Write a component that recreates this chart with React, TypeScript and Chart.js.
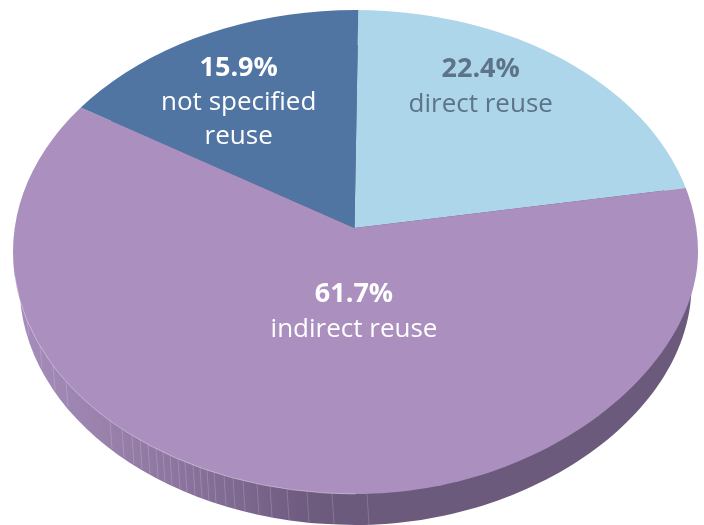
import React, { useEffect, useRef } from "react";
import { Chart, registerables } from "chart.js";

Chart.register(...registerables);

const categories = ["direct reuse", "indirect reuse", "not specified reuse"];
const shares = [22.4, 61.7, 15.9];
const sliceColors = ["#AED6EB", "#AA8FBF", "#5075A3"];

const W = 704;
const H = 525;
const APEX = { x: 354.5, y: 228 };
// linear map that tilts the flat pie into the picture's perspective
const TILT = { a: 1.618, b: -0.0117, c: -0.0195, d: 1.1157 };
// k1 / k2: handles of the lower-right quadrant, a little flatter than a true ellipse
const TOP_FACE = { x: 355.5, y: 252, rx: 342.5, ry: 242, k1: 0.47, k2: 0.56 };
const BOTTOM_FACE = { x: 355.5, y: 285, rx: 336, ry: 240, k1: 0.53, k2: 0.53 };
const FACET_XS = [27, 40, 53, 66, 110, 122, 132, 140, 148, 156, 163, 170, 178, 185, 193, 200, 207, 214, 224, 233, 243, 257, 270, 287, 307, 332, 367];
const SIDE_STOPS: [number, string][] = [
  [20, "#A58DBB"],
  [100, "#9A82AD"],
  [170, "#8D76A0"],
  [240, "#7D688F"],
  [300, "#6F5C80"],
  [345, "#6B5A7B"],
];

const LABEL_FONT = "'Open Sans'";
const LABELS = [
  { x: 480.7, color: "#5C7388", bold: [["22.4%", 77.3]], plain: [["direct reuse", 111.7]] },
  { x: 354, color: "#FFFFFF", bold: [["61.7%", 301.7]], plain: [["indirect reuse", 336.7]] },
  { x: 238.7, color: "#FFFFFF", bold: [["15.9%", 75.5]], plain: [["not specified", 110], ["reuse", 144]] },
];

function disc(ctx: CanvasRenderingContext2D, e: typeof TOP_FACE) {
  ctx.beginPath();
  ctx.moveTo(e.x + e.rx, e.y);
  ctx.bezierCurveTo(e.x + e.rx, e.y + e.k1 * e.ry, e.x + e.k2 * e.rx, e.y + e.ry, e.x, e.y + e.ry);
  ctx.ellipse(e.x, e.y, e.rx, e.ry, 0, Math.PI / 2, Math.PI * 2);
  ctx.closePath();
}

const tiltedPie = {
  id: "tiltedPie",
  beforeDatasetsDraw(chart: Chart) {
    const ctx = chart.ctx;
    // side wall
    const grad = ctx.createLinearGradient(0, 0, W, 0);
    SIDE_STOPS.forEach(([x, c]) => grad.addColorStop(x / W, c));
    ctx.save();
    ctx.fillStyle = grad;
    disc(ctx, BOTTOM_FACE);
    ctx.fill();
    ctx.beginPath();
    ctx.rect(BOTTOM_FACE.x - BOTTOM_FACE.rx, TOP_FACE.y, BOTTOM_FACE.rx * 2, BOTTOM_FACE.y - TOP_FACE.y);
    ctx.fill();
    ctx.restore();
    // facet seams on the wall
    ctx.save();
    disc(ctx, BOTTOM_FACE);
    ctx.clip();
    ctx.lineWidth = 0.8;
    FACET_XS.forEach((x) => {
      const t = (x - BOTTOM_FACE.x) / BOTTOM_FACE.rx;
      const yb = BOTTOM_FACE.y + BOTTOM_FACE.ry * Math.sqrt(1 - t * t);
      const u = (x - TOP_FACE.x) / TOP_FACE.rx;
      const yt = TOP_FACE.y + TOP_FACE.ry * Math.sqrt(1 - u * u);
      ctx.strokeStyle = "rgba(255,255,255,0.22)";
      ctx.beginPath();
      ctx.moveTo(x, yt);
      ctx.lineTo(x + 2, yb);
      ctx.stroke();
    });
    ctx.restore();
    // top face: slices clipped to the disc, through the tilt
    ctx.save();
    disc(ctx, TOP_FACE);
    ctx.clip();
    const arc = chart.getDatasetMeta(0).data[0] as any;
    ctx.translate(APEX.x, APEX.y);
    ctx.transform(TILT.a, TILT.b, TILT.c, TILT.d, 0, 0);
    ctx.translate(-arc.x, -arc.y);
  },
  afterDatasetsDraw(chart: Chart) {
    const ctx = chart.ctx;
    ctx.restore();
    // pale rim on the lower-left edge
    ctx.save();
    ctx.strokeStyle = "rgba(255,255,255,0.45)";
    ctx.lineWidth = 0.8;
    ctx.beginPath();
    ctx.ellipse(TOP_FACE.x, TOP_FACE.y, TOP_FACE.rx, TOP_FACE.ry, 0, Math.PI / 2, Math.PI - 0.1);
    ctx.stroke();
    ctx.restore();
    // labels
    ctx.save();
    ctx.textAlign = "center";
    ctx.textBaseline = "alphabetic";
    LABELS.forEach((l) => {
      ctx.fillStyle = l.color;
      ctx.font = `700 27px ${LABEL_FONT}`;
      l.bold.forEach(([s, y]) => ctx.fillText(s as string, l.x, y as number));
      ctx.font = `400 26px ${LABEL_FONT}`;
      l.plain.forEach(([s, y]) => ctx.fillText(s as string, l.x, y as number));
    });
    ctx.restore();
  },
};

export default function App() {
  const ref = useRef<HTMLCanvasElement>(null);
  useEffect(() => {
    const chart = new Chart(ref.current!, {
      type: "pie",
      data: {
        labels: categories,
        datasets: [{ data: shares, backgroundColor: sliceColors, borderWidth: 0, clip: false } as any],
      },
      options: {
        responsive: false,
        animation: false,
        layout: { padding: 0 },
        plugins: { legend: { display: false }, tooltip: { enabled: false } },
      },
      plugins: [tiltedPie],
    });
    return () => chart.destroy();
  }, []);
  return (
    <div style={{ position: "fixed", left: 0, top: 0, width: W, height: H, background: "#fff" }}>
      <canvas ref={ref} width={W} height={H} style={{ display: "block" }} />
    </div>
  );
}
